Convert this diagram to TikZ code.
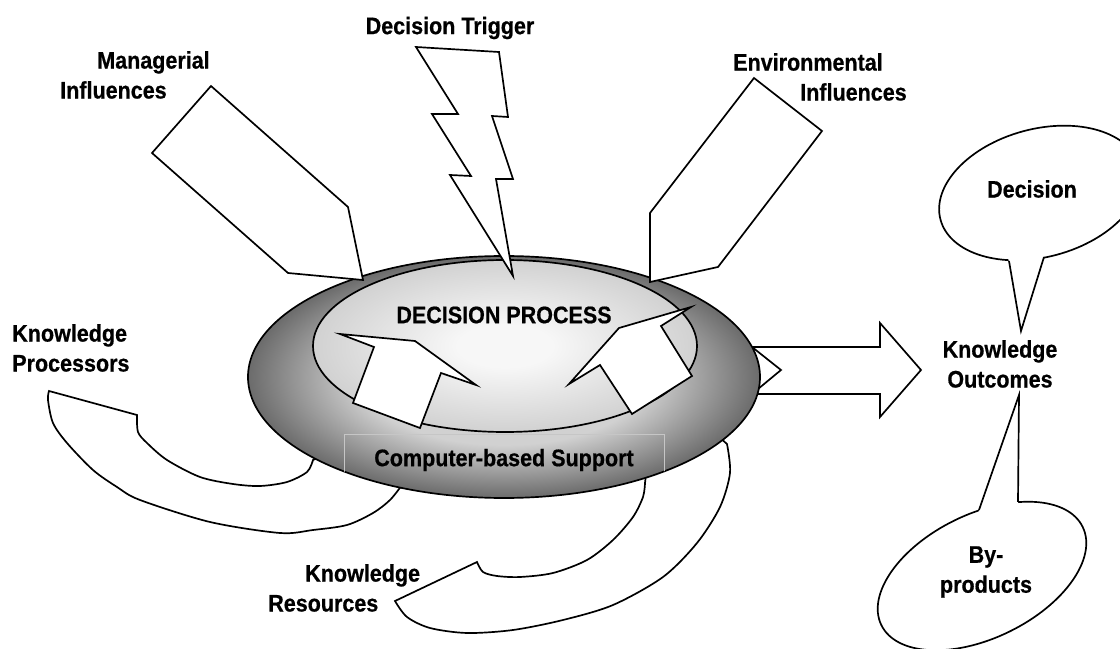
\documentclass[tikz,border=0pt]{standalone}
\usepackage{fontspec}
\setmainfont{Liberation Sans}[FakeStretch=0.9, BoldFeatures={FakeBold=0.6}]

\definecolor{ringdark}{gray}{0.42}
\definecolor{ringlight}{gray}{0.82}
\definecolor{corelight}{gray}{0.97}
\definecolor{coredark}{gray}{0.82}

\pgfdeclareradialshading{ringshade}{\pgfpoint{0bp}{0bp}}{color(0bp)=(ringlight); color(14bp)=(ringlight); color(25bp)=(ringdark); color(50bp)=(ringdark)}
\pgfdeclareradialshading{coreshade}{\pgfpoint{0bp}{0bp}}{color(0bp)=(corelight); color(6bp)=(corelight); color(25bp)=(coredark); color(50bp)=(coredark)}

\tikzset{
    arrowbox/.style={draw=black, fill=white, line width=1.2pt, line join=miter},
    lbl/.style={font=\bfseries\fontsize{17}{21.3}\selectfont, inner sep=0pt},
}

\begin{document}
\begin{tikzpicture}[x=0.025cm, y=-0.025cm]
    \useasboundingbox (0,0) rectangle (1120,649);

    % Step 1: Knowledge processors and resources (curved arrows, under the ellipse)
    \draw[arrowbox] (49,391) -- (137,415) -- plot[smooth] coordinates {(137,415) (138,432) (147,443) (167,460) (200,477) (233,484) (260,486) (287,482) (307,472) (313,460)} -- (360,440) -- (420,470) -- plot[smooth] coordinates {(402,485) (390,500) (373,513) (347,525) (313,530) (280,533) (210,522) (140,500) (117,487) (93,470) (67,443) (53,423) (48,400) (49,391)} -- cycle;
    \draw[arrowbox] (395,601) -- (477,562) -- plot[smooth] coordinates {(477,562) (483,572) (497,576) (520,577) (553,573) (587,560) (613,540) (633,517) (643,497) (645,483)} -- (650,440) -- (700,420) -- plot[smooth] coordinates {(727,444) (730,473) (720,507) (697,543) (663,577) (613,605) (563,620) (513,630) (467,633) (430,628) (407,617) (395,601)} -- cycle;

    % Outcome arrow
    \draw[arrowbox] (752,347) -- (880,347) -- (880,323) -- (921,370) -- (880,417) -- (880,394) -- (752,394) -- (781,370) -- cycle;

    % Step 2: Support ring and decision process
    \path[draw=black, line width=1.2pt, shading=ringshade] (504,377) ellipse [x radius=256, y radius=121];
    \begin{scope}
        \clip (504,377) ellipse [x radius=256, y radius=121];
        \draw[gray!45, line width=0.5pt] (344,434) rectangle (664,510);
    \end{scope}
    \path[draw=black, line width=1.2pt, shading=coreshade] (505,346) ellipse [x radius=192, y radius=86];

    % Influences and trigger
    \draw[arrowbox] (211,86) -- (348,207) -- (363,280) -- (288,273) -- (152,153) -- cycle; % managerial
    \draw[arrowbox] (754,78) -- (822,131) -- (718,267) -- (650,282) -- (650,213) -- cycle; % environmental
    \draw[arrowbox] (416,47) -- (499,52) -- (508,117) -- (492,116) -- (513,179) -- (496,179) -- (513,276)
        -- (450,175) -- (471,176) -- (432,114) -- (458,114) -- cycle; % lightning

    % Arrows inside the process
    \draw[arrowbox] (340,334) -- (415,341) -- (476,385) -- (441,373) -- (420,428) -- (353,403) -- (374,347) -- cycle;
    \draw[arrowbox] (691,307) -- (619,328) -- (569,384) -- (600,365) -- (632,414) -- (692,376) -- (661,326) -- cycle;

    % Step 3: Callouts for the outcomes
    \draw[arrowbox, rotate around={15:(1040,193)}] (1040,193) ellipse [x radius=103, y radius=64];
    \fill[white] (1006,245) -- (1021,331) -- (1049,240) -- cycle;
    \draw[line width=1.2pt, line join=miter] (1009,261) -- (1021,331) -- (1044,257);

    \draw[arrowbox, rotate around={26:(982,576)}] (982,576) ellipse [x radius=112, y radius=62];
    \fill[white] (974,525) -- (1019,395) -- (1018,520) -- cycle;
    \draw[line width=1.2pt, line join=miter] (979,510) -- (1019,395) -- (1018,502);

    % Labels
    \node[lbl] (trigger) at (450,28) {Decision Trigger};
    \node[lbl, align=left, anchor=west] (managerial) at (60,75) {\hspace*{0.925cm}Managerial\\Influences};
    \node[lbl, align=left, anchor=west] (environ) at (733,77) {Environmental\\\hspace*{1.675cm}Influences};
    \node[lbl, align=left, anchor=west] (processors) at (12,348) {Knowledge\\Processors};
    \node[lbl, align=left, anchor=west] (resources) at (268,588) {\hspace*{0.925cm}Knowledge\\Resources};
    \node[lbl] (process) at (504,315) {DECISION PROCESS};
    \node[lbl] (support) at (504,460) {Computer-based Support};
    \node[lbl, align=center] (outcomes) at (1000,364) {Knowledge\\Outcomes};
    \node[lbl] (decision) at (1032,189) {Decision};
    \node[lbl, align=center] (byproducts) at (986,572) {By-\\products};

\end{tikzpicture}
\end{document}
